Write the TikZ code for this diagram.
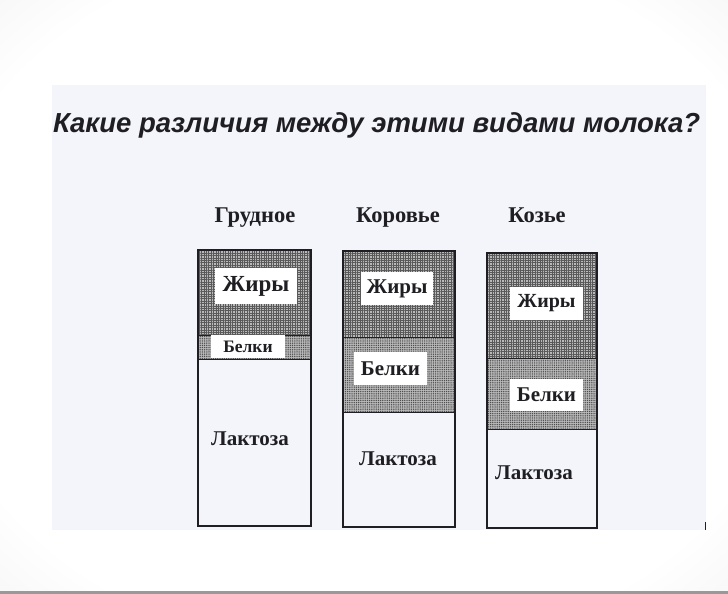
\documentclass[tikz,border=0pt]{standalone}
\usepackage{fontspec}
\usetikzlibrary{patterns.meta}
\setmainfont{Liberation Serif}
\newfontfamily\titlefont{Liberation Sans}
\definecolor{pagecol}{RGB}{244,245,250}
\definecolor{fatbase}{RGB}{185,185,185}
\definecolor{protbase}{RGB}{185,185,185}
\definecolor{inkcol}{RGB}{30,30,35}
\pgfdeclareradialshading{vign}{\pgfpoint{0bp}{0bp}}{color(0bp)=(white); color(30bp)=(white); color(50bp)=(black!10); color(70bp)=(black!20)}
\tikzset{
  barline/.style={draw=inkcol, line width=1.1pt},
  sepline/.style={draw=inkcol, line width=0.8pt},
  fatfill/.style={fill=fatbase, postaction={pattern={Lines[distance=2.4pt, angle=0, line width=0.65pt]}, pattern color=black!65}, postaction={pattern={Lines[distance=2.4pt, angle=90, line width=0.65pt]}, pattern color=black!65}},
  protfill/.style={fill=protbase, postaction={pattern={Dots[distance=2.2pt, radius=0.75pt]}, pattern color=black!70}},
  labelbox/.style={fill=white, inner sep=0pt, text=inkcol},
  coltitle/.style={anchor=base, font=\fontsize{22.5}{26}\selectfont\bfseries, text=inkcol},
  lactose/.style={anchor=base, font=\fontsize{21}{24}\selectfont\bfseries, text=inkcol},
}
\begin{document}
\begin{tikzpicture}[x=1pt,y=-1pt]
\useasboundingbox (0,0) rectangle (728,594);
% background
\shade[shading=vign] (0,0) rectangle (728,594);
\fill[pagecol] (52,85) rectangle (706,530);
\fill[black!40] (0,591) rectangle (728,594);
\draw[inkcol, line width=1pt] (705,522) -- (705,530);

% title
\node[anchor=base west, inner sep=0pt, text=inkcol] (title) at (53,132)
  {\resizebox{647pt}{!}{\titlefont\fontsize{26}{30}\selectfont\bfseries\itshape Какие различия между этими видами молока?}};

% column titles
\node[coltitle] (t1) at (255,222) {Грудное};
\node[coltitle] (t2) at (398,222) {Коровье};
\node[coltitle] (t3) at (537,222) {Козье};

% bar 1
\path[fatfill] (198,250) rectangle (311,335);
\path[protfill] (198,335) rectangle (311,359);
\draw[sepline] (198,335) -- (311,335);
\draw[sepline] (198,359) -- (311,359);
\draw[barline] (198,250) rectangle (311,526);
% bar 2
\path[fatfill] (343,251) rectangle (455,337);
\path[protfill] (343,337) rectangle (455,412);
\draw[sepline] (343,337) -- (455,337);
\draw[sepline] (343,412) -- (455,412);
\draw[barline] (343,251) rectangle (455,527);
% bar 3
\path[fatfill] (487,253) rectangle (597,358);
\path[protfill] (487,358) rectangle (597,429);
\draw[sepline] (487,358) -- (597,358);
\draw[sepline] (487,429) -- (597,429);
\draw[barline] (487,253) rectangle (597,528);

% label boxes
\node[labelbox, minimum width=82pt, minimum height=36pt, font=\fontsize{23}{26}\selectfont\bfseries] (f1) at (256,286) {Жиры};
\node[labelbox, minimum width=74pt, minimum height=23pt, font=\fontsize{17.5}{20}\selectfont\bfseries] (p1) at (248,346.5) {Белки};
\node[labelbox, minimum width=72pt, minimum height=33pt, font=\fontsize{21}{24}\selectfont\bfseries] (f2) at (397,288.5) {Жиры};
\node[labelbox, minimum width=73pt, minimum height=33pt, font=\fontsize{21}{24}\selectfont\bfseries] (p2) at (390.5,368.5) {Белки};
\node[labelbox, minimum width=73pt, minimum height=33pt, font=\fontsize{20}{24}\selectfont\bfseries] (f3) at (546.5,303.5) {Жиры};
\node[labelbox, minimum width=73pt, minimum height=32pt, font=\fontsize{21}{24}\selectfont\bfseries] (p3) at (546.5,395) {Белки};

% lactose
\node[lactose] (l1) at (250,445) {Лактоза};
\node[lactose] (l2) at (398,465) {Лактоза};
\node[lactose] (l3) at (534,479) {Лактоза};
\end{tikzpicture}
\end{document}
